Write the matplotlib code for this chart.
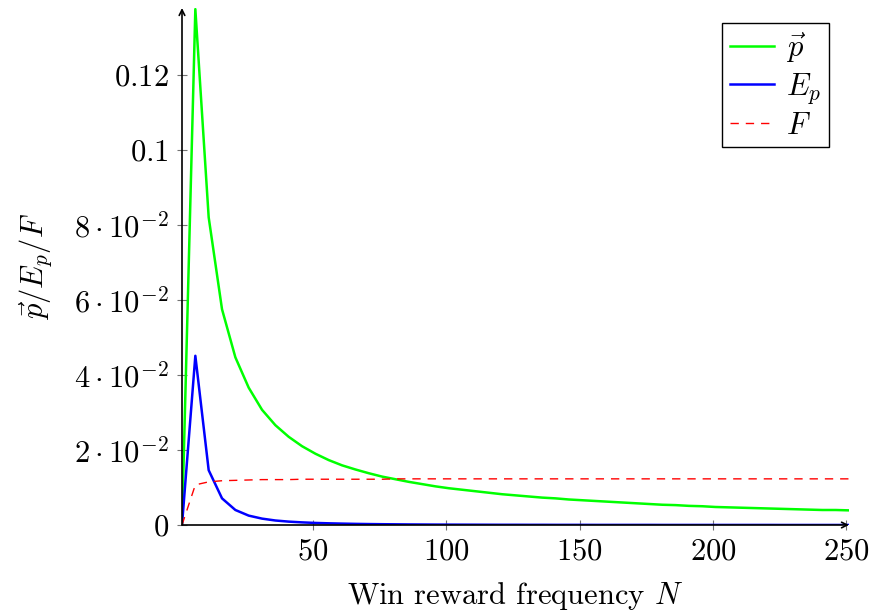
import numpy as np
import matplotlib.pyplot as plt

plt.rcParams['mathtext.fontset'] = 'cm'
plt.rcParams['font.family'] = 'serif'
plt.rcParams['font.serif'] = ['cmr10']
plt.rcParams['axes.formatter.use_mathtext'] = True

# win reward frequency N (step 5)
N = list(range(1, 252, 5))

p_vec = [0.0, 0.1375, 0.0820, 0.0575, 0.0447, 0.0366, 0.0307, 0.0266, 0.0235, 0.0210,
         0.0190, 0.0173, 0.0159, 0.0148, 0.0138, 0.0129, 0.0122, 0.0115, 0.0109, 0.0103,
         0.0098, 0.0094, 0.0090, 0.0086, 0.0082, 0.0079, 0.0076, 0.0073, 0.0071, 0.0068,
         0.0066, 0.0064, 0.0062, 0.0060, 0.0058, 0.0056, 0.0054, 0.0053, 0.0051, 0.0050,
         0.0048, 0.0047, 0.0046, 0.0045, 0.0044, 0.0043, 0.0042, 0.0041, 0.0040, 0.0040,
         0.0039]

E_p = [0.0, 0.0451, 0.0146, 0.0071, 0.0040, 0.0025, 0.0017, 0.0012, 0.0009, 0.0007,
       0.00055, 0.00045, 0.00037, 0.00030, 0.00025, 0.00021, 0.00018, 0.00015, 0.00013, 0.00011,
       0.00010, 0.00009, 0.00008, 0.00007, 0.00006, 0.00006, 0.00005, 0.00005, 0.00004, 0.00004,
       0.00004, 0.00003, 0.00003, 0.00003, 0.00003, 0.00003, 0.00002, 0.00002, 0.00002, 0.00002,
       0.00002, 0.00002, 0.00002, 0.00002, 0.00002, 0.00001, 0.00001, 0.00001, 0.00001, 0.00001,
       0.00001]

F = [0.0, 0.0107, 0.0115, 0.0118, 0.0119, 0.0120, 0.0121, 0.0121, 0.0121, 0.0122,
     0.0122, 0.0122, 0.0122, 0.0122, 0.0122, 0.0122, 0.0123, 0.0123, 0.0123, 0.0123,
     0.0123, 0.0123, 0.0123, 0.0123, 0.0123, 0.0123, 0.0123, 0.0123, 0.0123, 0.0123,
     0.0123, 0.0123, 0.0123, 0.0123, 0.0123, 0.0123, 0.0123, 0.0123, 0.0123, 0.0123,
     0.0123, 0.0123, 0.0123, 0.0123, 0.0123, 0.0123, 0.0123, 0.0123, 0.0123, 0.0123,
     0.0123]

xticks = [50, 100, 150, 200, 250]
yticks = [0, 0.02, 0.04, 0.06, 0.08, 0.10, 0.12]
ytick_labels = [r'$0$', r'$2\cdot10^{-2}$', r'$4\cdot10^{-2}$', r'$6\cdot10^{-2}$',
                r'$8\cdot10^{-2}$', r'$0.1$', r'$0.12$']

fig = plt.figure(figsize=(8.76, 6.15), dpi=100)
ax = fig.add_axes([182 / 876, 1 - 525 / 615, (849 - 182) / 876, (525 - 8) / 615])

ax.plot(N, p_vec, color='#00ff00', lw=1.8, label=r'$\vec{p}$')
ax.plot(N, E_p, color='#0000ff', lw=1.8, label=r'$E_p$')
ax.plot(N, F, color='#ff0000', lw=1.0, dashes=(6, 5), label=r'$F$')

ax.set_xlim(1, 251)
ax.set_ylim(0, 0.1378)

ax.set_xticks(xticks)
ax.set_xticklabels([rf'${t}$' for t in xticks])
ax.set_yticks(yticks)
ax.set_yticklabels(ytick_labels)
ax.tick_params(direction='inout', length=7, width=0.8, color='0.45', labelsize=22, pad=6)

for s in ax.spines.values():
    s.set_visible(False)
ax.annotate('', xy=(1, 0), xytext=(0, 0), xycoords='axes fraction',
            arrowprops=dict(arrowstyle='->', lw=1.2, color='black', shrinkA=0, shrinkB=0))
ax.annotate('', xy=(0, 1), xytext=(0, 0), xycoords='axes fraction',
            arrowprops=dict(arrowstyle='->', lw=1.2, color='black', shrinkA=0, shrinkB=0))

ax.set_xlabel(r'Win reward frequency $N$', fontsize=22, labelpad=10)
ax.set_ylabel(r'$\vec{p}/E_p/F$', fontsize=22, labelpad=14)

leg = ax.legend(loc='upper right', bbox_to_anchor=(0.970, 0.971), fontsize=22,
                frameon=True, fancybox=False, edgecolor='black', framealpha=1,
                handlelength=1.45, handletextpad=0.4, labelspacing=0.2,
                borderpad=0.25, borderaxespad=0)
leg.get_frame().set_linewidth(1.0)

fig.savefig('out.png', dpi=100)
